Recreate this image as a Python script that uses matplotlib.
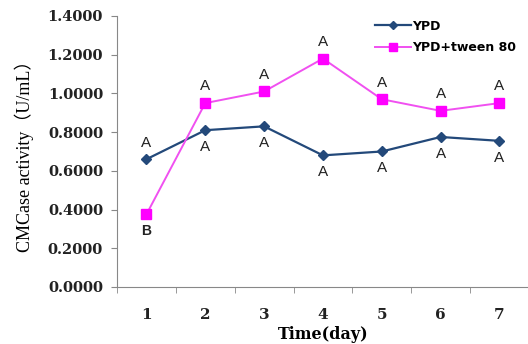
import matplotlib
matplotlib.use("Agg")
import matplotlib.pyplot as plt
from matplotlib.ticker import FixedLocator

days = ["1", "2", "3", "4", "5", "6", "7"]
ypd = [0.66, 0.81, 0.83, 0.68, 0.70, 0.775, 0.755]
tween = [0.375, 0.95, 1.01, 1.18, 0.97, 0.91, 0.95]
ypd_letters = ["A", "A", "A", "A", "A", "A", "A"]
tween_letters = ["B", "A", "A", "A", "A", "A", "A"]
yticks = [0.0, 0.2, 0.4, 0.6, 0.8, 1.0, 1.2, 1.4]

blue = "#23497A"
pink = "#F050F0"
magenta = "#FF00FF"

fig = plt.figure(figsize=(5.28, 3.44), dpi=100)
ax = fig.add_axes([0.2216, 0.1657, 0.78, 0.7878])

x = list(range(1, len(days) + 1))
ax.plot(x, ypd, color=blue, lw=1.6, marker="D", ms=5, mfc=blue, mec=blue, label="YPD")
ax.plot(x, tween, color=pink, lw=1.4, marker="s", ms=7.5, mfc=magenta, mec=magenta,
        label="YPD+tween 80")

# significance letters
for i, (v, t) in enumerate(zip(ypd, ypd_letters)):
    off = 7 if i == 0 else -7
    ax.annotate(t, (x[i], v), xytext=(0, off), textcoords="offset points",
                ha="center", va="bottom" if off > 0 else "top", fontsize=11,
                family="Liberation Sans", color="#222222")
for i, (v, t) in enumerate(zip(tween, tween_letters)):
    off = -7 if i == 0 else 7
    ax.annotate(t, (x[i], v), xytext=(0, off), textcoords="offset points",
                ha="center", va="bottom" if off > 0 else "top",
                fontsize=11 if t == "A" else 10,
                fontweight="bold" if t == "B" else "normal",
                family="Liberation Sans", color="#222222")

ax.set_xlim(0.5, 7.5)
ax.set_ylim(0, 1.4)
ax.set_yticks(yticks)
ax.set_yticklabels([f"{v:.4f}" for v in yticks], fontsize=10.5, fontweight="bold",
                   family="DejaVu Serif", color="#222222")
ax.set_xticks(x)
ax.set_xticklabels(days, fontsize=11, fontweight="bold", family="DejaVu Serif",
                   color="#222222")
ax.xaxis.set_minor_locator(FixedLocator([v + 0.5 for v in range(0, 8)]))
ax.tick_params(axis="x", which="major", length=0, pad=15)
ax.tick_params(axis="x", which="minor", length=4, color="#888888", direction="out")
ax.tick_params(axis="y", length=4, color="#888888", direction="out", pad=6)

for side in ("top", "right"):
    ax.spines[side].set_visible(False)
for side in ("left", "bottom"):
    ax.spines[side].set_color("#888888")

ax.set_xlabel("Time(day)", fontsize=11.5, fontweight="bold", family="DejaVu Serif",
              labelpad=3)
ax.set_ylabel("CMCase activity（U/mL）", fontsize=13,
              family=["Liberation Serif", "Noto Sans CJK SC"], labelpad=10)

leg = ax.legend(loc="upper left", bbox_to_anchor=(0.614, 1.005), frameon=False,
                prop={"family": "DejaVu Sans", "weight": "bold", "size": 9},
                handlelength=2.9, labelspacing=0.7, handletextpad=0.1,
                borderaxespad=0.0, markerscale=0.8)

fig.savefig("out.png", dpi=100)
